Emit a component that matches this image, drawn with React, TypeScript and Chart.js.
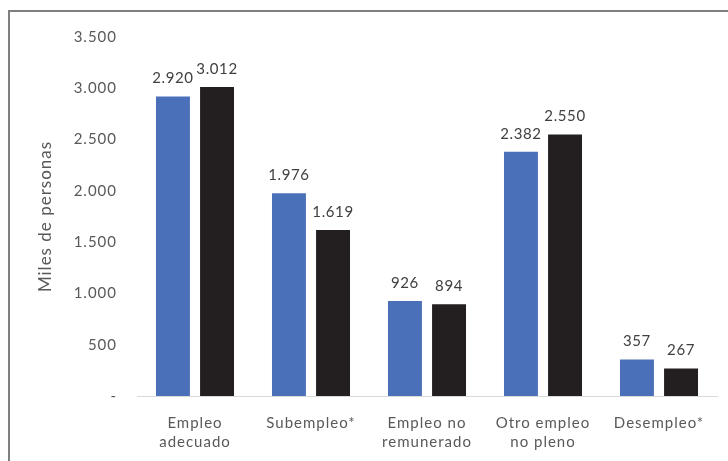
import React, { useEffect, useRef } from "react";
import { Chart, registerables } from "chart.js";

Chart.register(...registerables);

const categories: string[][] = [
  ["Empleo", "adecuado"],
  ["Subempleo*"],
  ["Empleo no", "remunerado"],
  ["Otro empleo", "no pleno"],
  ["Desempleo*"],
];
const seriesA: number[] = [2920, 1976, 926, 2382, 357];
const seriesB: number[] = [3012, 1619, 894, 2550, 267];
const yTicks: number[] = [0, 500, 1000, 1500, 2000, 2500, 3000, 3500];

const FONT = "Lato, 'Open Sans', sans-serif";

const fmt = (v: number): string =>
  v === 0 ? "-" : Math.round(v).toString().replace(/\B(?=(\d{3})+(?!\d))/g, ".");

const spacing = {
  id: "spacing",
  beforeDraw(chart: any) {
    (chart.ctx as any).letterSpacing = "1px";
  },
  afterDraw(chart: any) {
    (chart.ctx as any).letterSpacing = "0px";
  },
};

const valueLabels = {
  id: "valueLabels",
  afterDatasetsDraw(chart: any) {
    const ctx = chart.ctx;
    ctx.save();
    (ctx as any).letterSpacing = "0.6px";
    ctx.font = `15px ${FONT}`;
    ctx.fillStyle = "#404040";
    ctx.textAlign = "center";
    ctx.textBaseline = "middle";
    chart.data.datasets.forEach((ds: any, i: number) => {
      const meta = chart.getDatasetMeta(i);
      meta.data.forEach((bar: any, j: number) => {
        ctx.fillText(fmt(ds.data[j]), bar.x, bar.y - 18);
      });
    });
    ctx.restore();
  },
};

export default function App() {
  const ref = useRef<HTMLCanvasElement | null>(null);
  useEffect(() => {
    if (!ref.current) return;
    const chart = new Chart(ref.current, {
      type: "bar",
      data: {
        labels: categories,
        datasets: [
          { label: "A", data: seriesA, backgroundColor: "#4A70B9" },
          { label: "B", data: seriesB, backgroundColor: "#231F20" },
        ],
      },
      options: {
        animation: false,
        responsive: false,
        maintainAspectRatio: false,
        layout: { padding: { left: 30, right: 11, top: 37, bottom: 0 } },
        datasets: { bar: { categoryPercentage: 0.76, barPercentage: 0.77 } },
        plugins: { legend: { display: false }, tooltip: { enabled: false } },
        scales: {
          x: {
            afterFit: (s: any) => {
              s.height = 65;
            },
            grid: { display: false, drawTicks: false },
            border: { display: true, color: "#D9D9D9", width: 1 },
            ticks: {
              color: "#595959",
              font: { family: FONT, size: 15, lineHeight: 1.25 },
              padding: 18,
              maxRotation: 0,
              autoSkip: false,
            },
          },
          y: {
            min: 0,
            max: 3500,
            afterFit: (s: any) => {
              s.width = 107;
            },
            afterBuildTicks: (s: any) => {
              s.ticks = yTicks.map((v) => ({ value: v }));
            },
            grid: { display: false, drawTicks: false },
            border: { display: false },
            ticks: {
              color: "#595959",
              font: { family: FONT, size: 15 },
              padding: 20,
              callback: (v: any) => fmt(Number(v)),
            },
            title: {
              display: true,
              text: "Miles de personas",
              color: "#595959",
              font: { family: FONT, size: 17 },
              padding: { top: 5, bottom: 0 },
            },
          },
        },
      },
      plugins: [spacing, valueLabels],
    });
    return () => chart.destroy();
  }, []);

  return (
    <div
      style={{
        position: "fixed",
        left: 0,
        top: 0,
        width: 728,
        height: 461,
        overflow: "hidden",
        background: "#fff",
      }}
    >
      <div
        style={{
          position: "absolute",
          left: 8,
          top: 10,
          width: 800,
          height: 600,
          border: "2px solid #7F7F7F",
          boxSizing: "border-box",
        }}
      />
      <canvas
        ref={ref}
        width={728}
        height={461}
        style={{ position: "absolute", left: 0, top: 0, width: 728, height: 461 }}
      />
    </div>
  );
}
